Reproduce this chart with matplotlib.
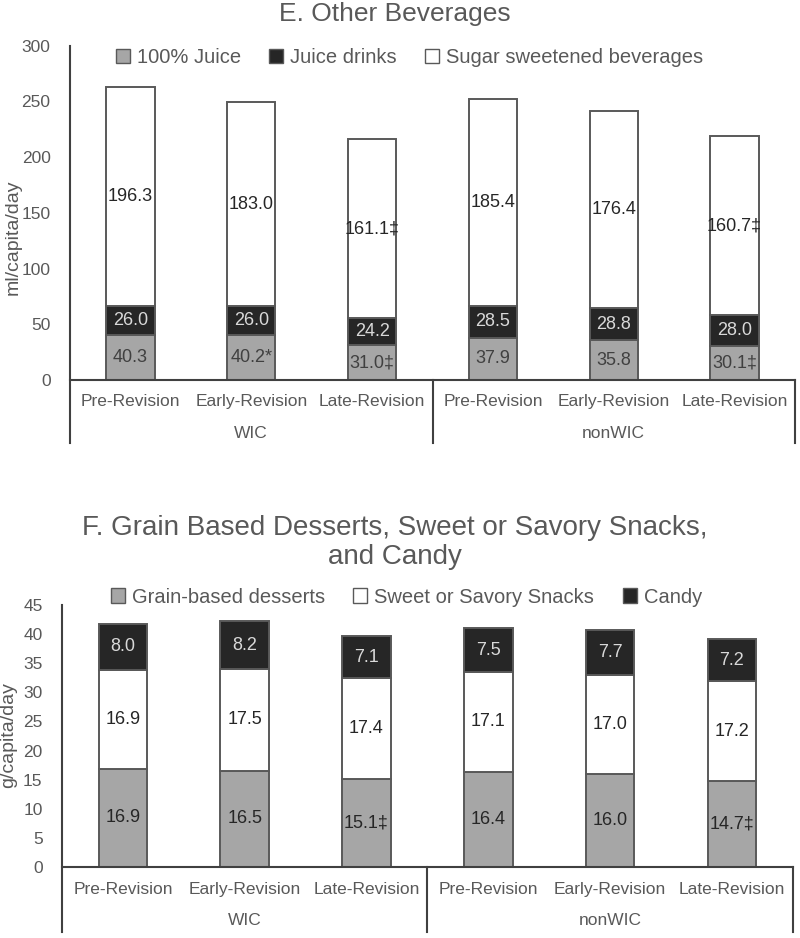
import matplotlib
matplotlib.use('Agg')
import matplotlib.pyplot as plt
import matplotlib.transforms as mtransforms
from matplotlib.patches import Patch
import numpy as np

plt.rcParams['font.family'] = ['Liberation Sans', 'DejaVu Sans']

groups = ['WIC', 'nonWIC']
periods = ['Pre-Revision', 'Early-Revision', 'Late-Revision']

# E. Other Beverages (ml/capita/day)
juice = [40.3, 40.2, 31.0, 37.9, 35.8, 30.1]
juice_lbl = ['40.3', '40.2*', '31.0‡', '37.9', '35.8', '30.1‡']
drinks = [26.0, 26.0, 24.2, 28.5, 28.8, 28.0]
drinks_lbl = ['26.0', '26.0', '24.2', '28.5', '28.8', '28.0']
ssb = [196.3, 183.0, 161.1, 185.4, 176.4, 160.7]
ssb_lbl = ['196.3', '183.0', '161.1‡', '185.4', '176.4', '160.7‡']

# F. Grain based desserts, snacks, candy (g/capita/day)
grain = [16.9, 16.5, 15.1, 16.4, 16.0, 14.7]
grain_lbl = ['16.9', '16.5', '15.1‡', '16.4', '16.0', '14.7‡']
snacks = [16.9, 17.5, 17.4, 17.1, 17.0, 17.2]
snacks_lbl = ['16.9', '17.5', '17.4', '17.1', '17.0', '17.2']
candy = [8.0, 8.2, 7.1, 7.5, 7.7, 7.2]
candy_lbl = ['8.0', '8.2', '7.1', '7.5', '7.7', '7.2']

GRAY = '#a6a6a6'
BLACK = '#262626'
WHITE = '#ffffff'
EDGE = '#595959'
TXT = '#595959'


def panel(ax, series, labels, colors, tcolors, ymax, step, cat_y, grp_y, low):
    x = np.arange(len(periods) * len(groups))
    bottom = np.zeros(len(x))
    for vals, lbls, c, tc in zip(series, labels, colors, tcolors):
        vals = np.array(vals)
        ax.bar(x, vals, 0.4, bottom=bottom, color=c, edgecolor=EDGE, linewidth=1.4, zorder=2)
        for xi, b, v, s in zip(x, bottom, vals, lbls):
            ax.text(xi, b + v / 2, s, ha='center', va='center', fontsize=13, color=tc, zorder=3)
        bottom = bottom + vals
    ax.set_xlim(-0.5, len(x) - 0.5)
    ax.set_ylim(0, ymax)
    ax.set_yticks(np.arange(0, ymax + step / 2, step))
    ax.tick_params(axis='y', length=0, pad=14, labelsize=12.5, labelcolor=TXT)
    ax.set_xticks([])
    for sp in ax.spines.values():
        sp.set_visible(False)
    ax.axhline(0, color='#404040', linewidth=1.5, zorder=4, clip_on=False)
    ax.plot([0, 0], [low, 1], transform=ax.transAxes, color='#404040', lw=1.5, clip_on=False)
    for xv in [0.5, 1.0]:
        ax.plot([xv, xv], [low, 0], transform=ax.transAxes, color='#404040', lw=1.5, clip_on=False)
    trans = mtransforms.blended_transform_factory(ax.transData, ax.transAxes)
    for i, p in enumerate(periods * len(groups)):
        ax.text(i, cat_y, p, transform=trans, ha='center', va='center', fontsize=12.5, color=TXT)
    for g, name in enumerate(groups):
        ax.text(g * 3 + 1, grp_y, name, transform=trans, ha='center', va='center', fontsize=12.5, color=TXT)


fig = plt.figure(figsize=(8, 9.38), dpi=100)

ax1 = fig.add_axes([0.0875, 0.5949, 0.9063, 0.3564])
panel(ax1, [juice, drinks, ssb], [juice_lbl, drinks_lbl, ssb_lbl],
      [GRAY, BLACK, WHITE], ['#404040', '#d9d9d9', '#262626'],
      300, 50, -0.063, -0.159, -0.189)
fig.text(0.016, 0.747, 'ml/capita/day', rotation=90, ha='center', va='center', fontsize=14, color=TXT)
fig.text(0.493, 0.985, 'E. Other Beverages', ha='center', va='center', fontsize=19, color=TXT)
fig.legend([Patch(facecolor=GRAY, edgecolor=EDGE), Patch(facecolor=BLACK, edgecolor=EDGE),
            Patch(facecolor=WHITE, edgecolor=EDGE)],
           ['100% Juice', 'Juice drinks', 'Sugar sweetened beverages'],
           loc='center', bbox_to_anchor=(0.512, 0.939), ncol=3, frameon=False, fontsize=14.5,
           handlelength=0.7, handleheight=0.7, handletextpad=0.35, columnspacing=1.4,
           labelcolor=TXT)

ax2 = fig.add_axes([0.0775, 0.0757, 0.9135, 0.2793])
panel(ax2, [grain, snacks, candy], [grain_lbl, snacks_lbl, candy_lbl],
      [GRAY, WHITE, BLACK], ['#262626', '#262626', '#d9d9d9'],
      45, 5, -0.084, -0.206, -0.248)
fig.text(0.011, 0.216, 'g/capita/day', rotation=90, ha='center', va='center', fontsize=14, color=TXT)
fig.text(0.494, 0.4216, 'F. Grain Based Desserts, Sweet or Savory Snacks,\nand Candy',
         ha='center', va='center', fontsize=20, color=TXT, linespacing=1.12)
fig.legend([Patch(facecolor=GRAY, edgecolor=EDGE), Patch(facecolor=WHITE, edgecolor=EDGE),
            Patch(facecolor=BLACK, edgecolor=EDGE)],
           ['Grain-based desserts', 'Sweet or Savory Snacks', 'Candy'],
           loc='center', bbox_to_anchor=(0.508, 0.3635), ncol=3, frameon=False, fontsize=14.5,
           handlelength=0.7, handleheight=0.7, handletextpad=0.35, columnspacing=1.4,
           labelcolor=TXT)

fig.savefig('out.png', dpi=100)
